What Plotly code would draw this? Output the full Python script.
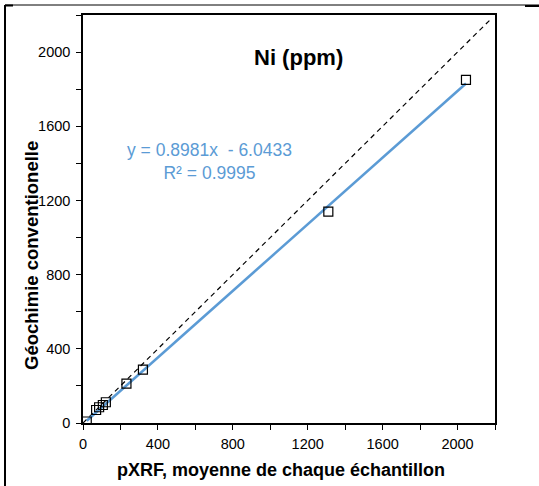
import plotly.graph_objects as go
import numpy as np

# Data
pxrf = [20, 70, 86, 106, 122, 232, 320, 1310, 2045]
geochem = [8, 70, 85, 97, 112, 212, 288, 1140, 1850]

fit_slope = 0.8981
fit_intercept = -6.0433
fit_label = "y = 0.8981x  - 6.0433<br>R² = 0.9995"
title_text = "Ni (ppm)"
x_title = "pXRF, moyenne de chaque échantillon"
y_title = "Géochimie conventionelle"

tick_vals = list(range(0, 2201, 200))
tick_text = [str(v) if (v % 400 == 0 and v <= 2000) else "" for v in tick_vals]
one_to_one = [0, 2170]

W, H = 539, 486
L, R, T, B = 83, 44, 15, 63
pw, ph = W - L - R, H - T - B

def px_x(px):
    return (px - L) / pw

def px_y(py):
    return (H - B - py) / ph

FONT = "Liberation Sans, Arial, Helvetica, sans-serif"
BLUE = "#5b9bd5"

fig = go.Figure()

# 1:1 dashed line
fig.add_trace(go.Scatter(x=one_to_one, y=one_to_one, mode="lines",
                         line=dict(color="black", width=1.2, dash="5px,4px"),
                         hoverinfo="skip", showlegend=False))

# Trend line
xs = np.array([min(pxrf), max(pxrf)], dtype=float)
fig.add_trace(go.Scatter(x=xs, y=fit_slope * xs + fit_intercept, mode="lines",
                         line=dict(color=BLUE, width=2.5),
                         showlegend=False))

# Points
fig.add_trace(go.Scatter(x=pxrf, y=geochem, mode="markers",
                         marker=dict(symbol="square-open", size=9, color="black",
                                     line=dict(width=1.2, color="black")),
                         showlegend=False))

axis_common = dict(range=[0, 2200], tickmode="array", tickvals=tick_vals,
                   ticktext=tick_text, ticks="outside", ticklen=5, tickwidth=1,
                   tickcolor="black", showline=True, linecolor="black", linewidth=1.5,
                   mirror=True, showgrid=False, zeroline=False,
                   tickfont=dict(family=FONT, size=14.5, color="black"))

fig.update_xaxes(**axis_common, ticklabelstandoff=2)
fig.update_yaxes(**axis_common, ticklabelstandoff=3)

annotations = [
    dict(x=1152, y=1973, xref="x", yref="y", text="<b>" + title_text + "</b>",
         showarrow=False, xanchor="center", yanchor="middle",
         font=dict(family=FONT, size=22, color="black")),
    dict(x=677, y=1408, xref="x", yref="y", text=fit_label, showarrow=False,
         align="center", xanchor="center", yanchor="middle",
         font=dict(family=FONT, size=17.5, color=BLUE)),
    dict(x=px_x(281), y=px_y(470), xref="paper", yref="paper",
         text="<b>" + x_title + "</b>", showarrow=False,
         xanchor="center", yanchor="middle",
         font=dict(family=FONT, size=18, color="black")),
    dict(x=px_x(31), y=px_y(256), xref="paper", yref="paper",
         text="<b>" + y_title + "</b>", showarrow=False, textangle=-90,
         xanchor="center", yanchor="middle",
         font=dict(family=FONT, size=18.5, color="black")),
]

shapes = [
    dict(type="line", xref="paper", yref="paper", x0=px_x(5), x1=px_x(5),
         y0=px_y(5), y1=px_y(490), line=dict(color="black", width=2)),
    dict(type="line", xref="paper", yref="paper", x0=px_x(5), x1=px_x(539),
         y0=px_y(5), y1=px_y(5), line=dict(color="black", width=1)),
    dict(type="line", xref="paper", yref="paper", x0=px_x(5), x1=px_x(13),
         y0=px_y(5.5), y1=px_y(5.5), line=dict(color="black", width=2)),
    dict(type="line", xref="paper", yref="paper", x0=px_x(525), x1=px_x(539),
         y0=px_y(6), y1=px_y(6), line=dict(color="black", width=2)),
]

fig.update_layout(width=W, height=H, margin=dict(l=L, r=R, t=T, b=B),
                  plot_bgcolor="white", paper_bgcolor="white",
                  annotations=annotations, shapes=shapes, showlegend=False)

fig.write_html("out.html", config={"displayModeBar": False},
               post_script="document.body.style.margin='0';document.body.style.overflow='hidden';")
